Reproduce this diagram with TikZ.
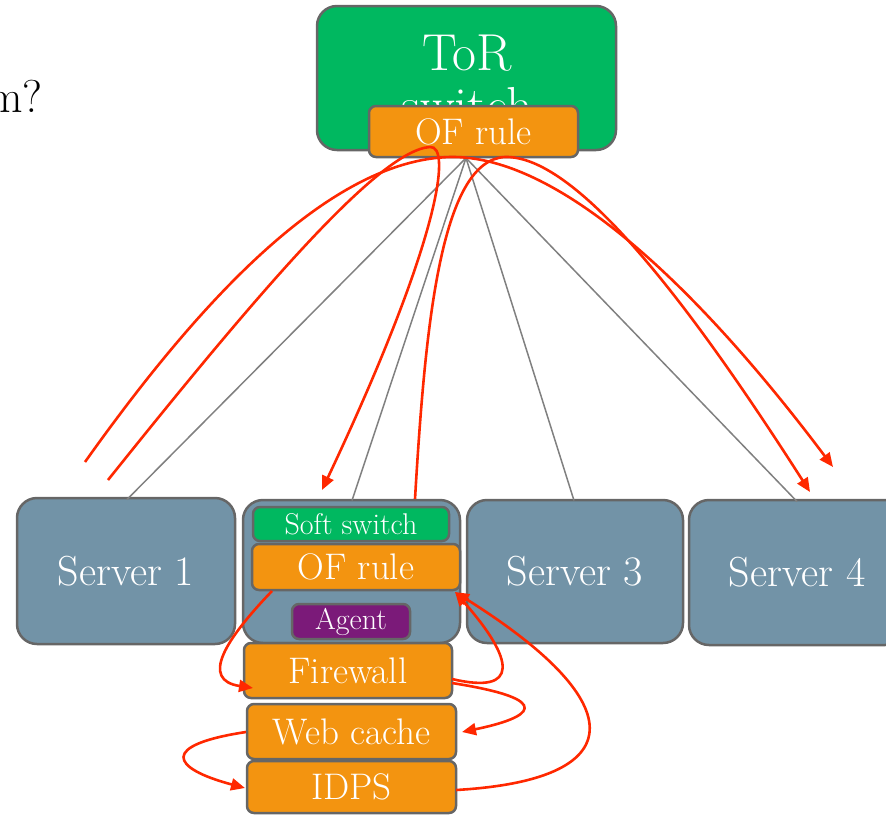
\documentclass[tikz,border=0pt]{standalone}
\usetikzlibrary{arrows.meta}
\definecolor{torgreen}{RGB}{0,184,96}
\definecolor{oforange}{RGB}{243,148,16}
\definecolor{srvblue}{RGB}{114,147,167}
\definecolor{agentpurple}{RGB}{123,26,121}
\definecolor{bordergray}{RGB}{102,102,102}
\definecolor{flowred}{RGB}{255,40,0}
\definecolor{linkgray}{RGB}{128,128,128}
\tikzset{
  box/.style={draw=bordergray, line width=2.5pt, text=white, inner sep=0pt},
  bigbox/.style={box, rounded corners=20pt},
  smallbox/.style={box, rounded corners=7pt},
  link/.style={draw=linkgray, line width=1.5pt},
  flowline/.style={draw=flowred, line width=2.6pt},
  flow/.style={flowline, -{Triangle[length=14pt,width=12pt]}},
  srvtext/.style={font=\fontsize{42}{46}\selectfont},
  midtext/.style={font=\fontsize{37}{40}\selectfont},
  tortext/.style={anchor=base, inner sep=0pt, text=white, font=\fontsize{52}{56}\selectfont},
}
\begin{document}
\begin{tikzpicture}[x=1pt,y=-1pt]
\useasboundingbox (0,0) rectangle (886,815);

% cut-off title fragment
\node[anchor=base east, inner sep=0pt, font=\fontsize{46}{50}\selectfont] (title) at (43,112) {m?};

% ToR switch
\node[bigbox, fill=torgreen, minimum width=299pt, minimum height=144pt] (tor) at (466.5,78) {};
\node[tortext] (tortxt1) at (467,70) {ToR};
\node[tortext] (tortxt2) at (467,123) {switch};
\node[smallbox, fill=oforange, minimum width=209pt, minimum height=51pt, midtext] (ofr1) at (473.5,131.5) {OF rule};

% hub of the links
\coordinate (hub) at (466,158);

% servers
\node[bigbox, fill=srvblue, minimum width=218pt, minimum height=146pt, srvtext] (s1) at (126,571) {Server 1};
\node[bigbox, fill=srvblue, minimum width=217pt, minimum height=143pt] (s2) at (351.5,571.5) {};
\node[bigbox, fill=srvblue, minimum width=216pt, minimum height=143pt, srvtext] (s3) at (575,571.5) {Server 3};
\node[bigbox, fill=srvblue, minimum width=216pt, minimum height=145pt, srvtext] (s4) at (797,572.5) {Server 4};

% links
\draw[link] (hub) -- (127,499.5);
\draw[link] (hub) -- (352,500.5);
\draw[link] (hub) -- (574,500.5);
\draw[link] (hub) -- (797,501.5);

% server 2 contents
\node[smallbox, fill=torgreen, minimum width=196pt, minimum height=34pt, font=\fontsize{30}{32}\selectfont] (soft) at (351,524) {Soft switch};
\node[smallbox, fill=oforange, minimum width=208pt, minimum height=46pt, midtext] (ofr2) at (356,567) {OF rule};
\node[smallbox, fill=agentpurple, minimum width=118pt, minimum height=35pt, font=\fontsize{30}{32}\selectfont] (agent) at (351,621.5) {Agent};

% middleboxes
\node[smallbox, fill=oforange, minimum width=208pt, minimum height=55pt, midtext] (fw) at (348,670.5) {Firewall};
\node[smallbox, fill=oforange, minimum width=209pt, minimum height=55pt, midtext] (wc) at (351.5,731.5) {Web cache};
\node[smallbox, fill=oforange, minimum width=209pt, minimum height=52pt, midtext] (idps) at (351.5,787) {IDPS};

% flow end points
\coordinate (a0) at (85,462);
\coordinate (a1) at (833,467);
\coordinate (b0) at (108,480);
\coordinate (b1) at (322,490);
\coordinate (c0) at (415,499);
\coordinate (c1) at (810,492);
\coordinate (ofin) at (455,592);
\coordinate (ofout) at (272,591);
\coordinate (fwin) at (253,688);
\coordinate (fwout1) at (452,679);
\coordinate (fwout2) at (452,683);
\coordinate (wcin) at (462,732);
\coordinate (wcout) at (246,732);
\coordinate (idpsin) at (245,788);
\coordinate (idpsout) at (456,790);

% red flows
\draw[flow] (a0) .. controls (200,300) and (330,160) .. (450,157)
               .. controls (560,155) and (700,290) .. (a1);
\draw[flow] (b0) .. controls (260,290) and (380,150) .. (430,147)
               .. controls (452,145) and (440,240) .. (b1);
\draw[flow] (c0) .. controls (425,330) and (440,160) .. (505,157)
               .. controls (580,155) and (700,320) .. (c1);
\draw[flow] (ofout) .. controls (225,640) and (200,680) .. (fwin);
\draw[flow] (fwout1) .. controls (520,695) and (515,660) .. (ofin);
\draw[flow] (fwout2) .. controls (560,700) and (530,718) .. (wcin);
\draw[flow] (wcout) .. controls (160,745) and (170,768) .. (idpsin);
\draw[flow] (idpsout) .. controls (630,780) and (635,705) .. (ofin);
\end{tikzpicture}
\end{document}
